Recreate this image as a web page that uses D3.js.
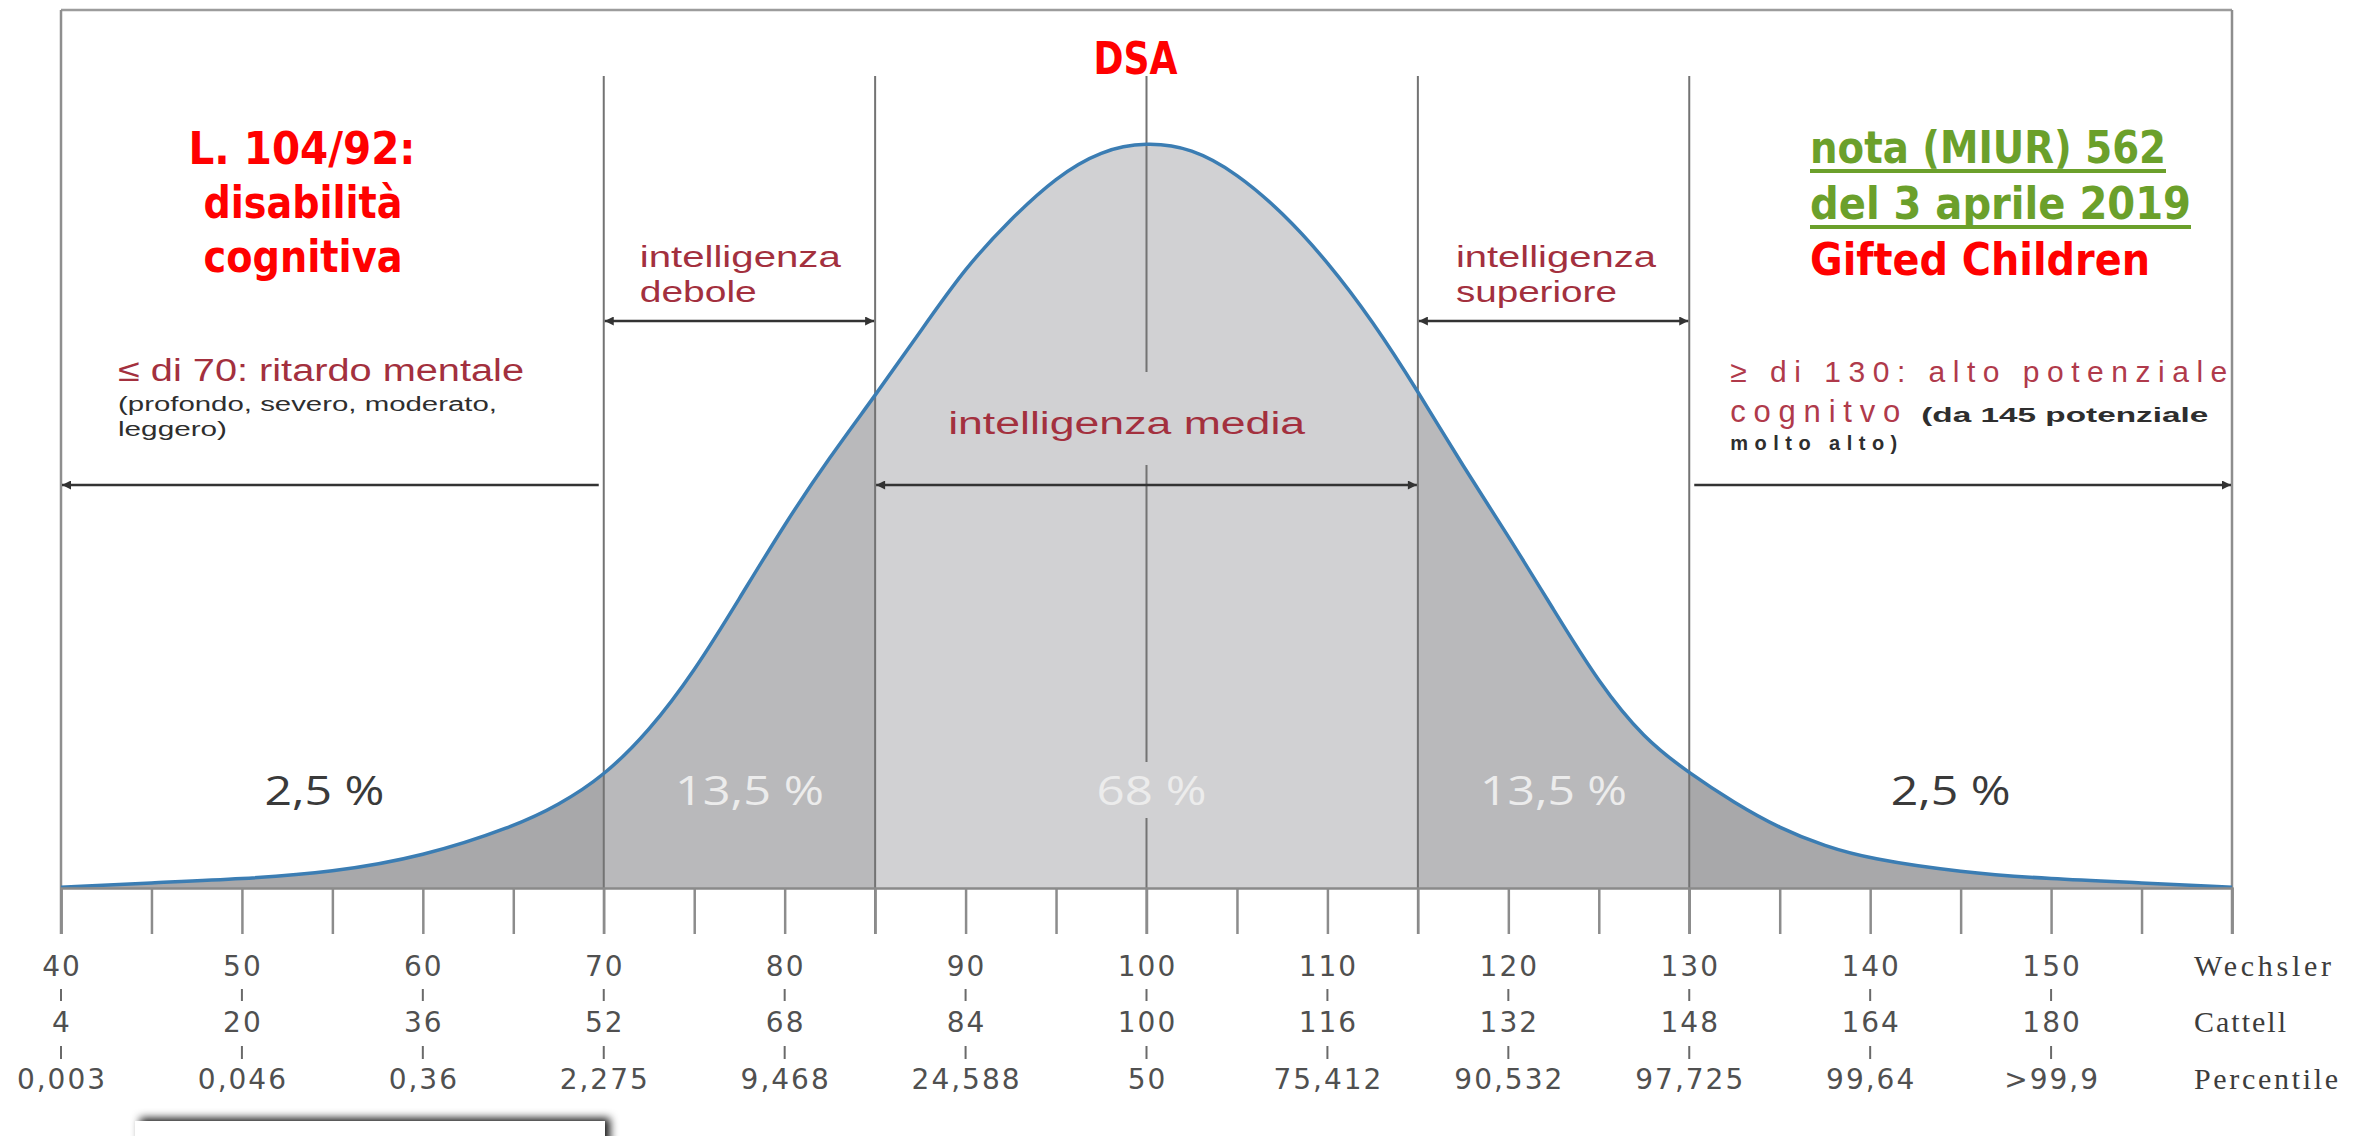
<!DOCTYPE html>
<html>
<head>
<meta charset="utf-8">
<script src="https://cdn.jsdelivr.net/npm/d3@7"></script>
<style>
    body { margin: 0; background: #fff; }
    svg { display: block; }
</style>
</head>
<body>
<div id="chart"></div>
<script>
// curve: IQ score -> height in % of the peak
const iq = [40, 45, 50, 55, 60, 65, 67.5, 70, 72.5, 75, 77.5, 80, 82.5, 85, 87.5, 90, 92.5, 95, 97.5,
    100, 102.5, 105, 107.5, 110, 112.5, 115, 117.5, 120, 122.5, 125, 127.5, 130, 132.5, 135, 137.5,
    140, 145, 150, 155, 160]
const freq = [0.1, 0.7, 1.2, 2.1, 4.2, 8.2, 11.1, 15.0, 21.0, 29.0, 38.8, 48.8, 57.8, 66.0, 74.6, 83.2, 89.7, 95.3, 98.9,
    100, 99.2, 95.8, 90.6, 84.0, 76.0, 66.6, 56.5, 47.2, 37.3, 27.5, 20.0, 15.4, 11.4, 8.0, 5.6,
    3.9, 2.1, 1.2, 0.7, 0.1]

const bounds = [40, 70, 85, 115, 130, 160]
const shares = ["2,5 %", "13,5 %", "68 %", "13,5 %", "2,5 %"]

const wechsler = [40, 50, 60, 70, 80, 90, 100, 110, 120, 130, 140, 150]
const cattell = [4, 20, 36, 52, 68, 84, 100, 116, 132, 148, 164, 180]
const percentile = ["0,003", "0,046", "0,36", "2,275", "9,468", "24,588", "50", "75,412", "90,532", "97,725", "99,64", ">99,9"]
const scaleNames = ["Wechsler", "Cattell", "Percentile"]

const width = 2369
const height = 1136
const frameTop = 10
const lineTop = 76
const tickLen = 46

const svg = d3.select("#chart")
    .append("svg")
    .attr("width", width)
    .attr("height", height)

const x = d3.scaleLinear().domain([40, 160]).range([61, 2232])
const y = d3.scaleLinear().domain([0, 100]).range([888, 142])
const base = y(0)

const data = iq.map((v, i) => ({iq: v, f: freq[i]}))
const defs = svg.append("defs")

// one clip per band under the curve
bounds.slice(1).forEach((b, i) => {
    defs.append("clipPath")
        .attr("id", "band" + i)
        .append("rect")
        .attr("x", x(bounds[i]))
        .attr("y", 0)
        .attr("width", x(b) - x(bounds[i]))
        .attr("height", height)
})

defs.append("marker")
    .attr("id", "head")
    .attr("viewBox", "0 0 10 10")
    .attr("refX", 10)
    .attr("refY", 5)
    .attr("markerUnits", "userSpaceOnUse")
    .attr("markerWidth", 14)
    .attr("markerHeight", 9)
    .attr("orient", "auto-start-reverse")
    .append("path")
    .attr("d", "M0,0L10,5L0,10z")
    .attr("fill", "#333")

const shadow = defs.append("filter")
    .attr("id", "shadow")
    .attr("x", "-10%").attr("y", "-50%")
    .attr("width", "120%").attr("height", "200%")
shadow.append("feDropShadow")
    .attr("dx", 5).attr("dy", -3)
    .attr("stdDeviation", 4)
    .attr("flood-color", "#000")
    .attr("flood-opacity", 0.9)

const bandFill = ["#a8a8aa", "#b9b9bb", "#d1d1d3", "#b9b9bb", "#a8a8aa"]

const area = d3.area()
    .x(d => x(d.iq))
    .y0(base)
    .y1(d => y(d.f))
    .curve(d3.curveBasis)

svg.selectAll(".band")
    .data(bandFill)
    .enter()
    .append("path")
    .attr("class", "band")
    .attr("clip-path", (d, i) => `url(#band${i})`)
    .attr("fill", d => d)
    .attr("d", area(data))

// frame
svg.append("line")
    .attr("x1", x(40)).attr("x2", x(160))
    .attr("y1", frameTop).attr("y2", frameTop)
    .attr("stroke", "#9c9c9c").attr("stroke-width", 2.5)

svg.selectAll(".edge")
    .data([40, 160])
    .enter()
    .append("line")
    .attr("class", "edge")
    .attr("x1", d => x(d)).attr("x2", d => x(d))
    .attr("y1", frameTop).attr("y2", base + tickLen)
    .attr("stroke", "#8e8e8e").attr("stroke-width", 2.5)

// band limits, the one at 100 is broken around two labels
const segs = [
    {v: 70, y1: lineTop, y2: base + tickLen},
    {v: 85, y1: lineTop, y2: base + tickLen},
    {v: 115, y1: lineTop, y2: base + tickLen},
    {v: 130, y1: lineTop, y2: base + tickLen},
    {v: 100, y1: lineTop, y2: 372},
    {v: 100, y1: 465, y2: 762},
    {v: 100, y1: 818, y2: base + tickLen}
]
svg.selectAll(".limit")
    .data(segs)
    .enter()
    .append("line")
    .attr("class", "limit")
    .attr("x1", d => x(d.v)).attr("x2", d => x(d.v))
    .attr("y1", d => d.y1).attr("y2", d => d.y2)
    .attr("stroke", "#737373").attr("stroke-width", 2)

// the curve
svg.append("path")
    .attr("fill", "none")
    .attr("stroke", "#3b7db3")
    .attr("stroke-width", 3.5)
    .attr("d", d3.line().x(d => x(d.iq)).y(d => y(d.f)).curve(d3.curveBasis)(data))

// baseline and ticks
const xAxis = d3.axisBottom(x)
    .tickValues(d3.range(40, 161, 5))
    .tickSize(tickLen)
    .tickFormat("")

const axisG = svg.append("g")
    .attr("transform", `translate(0, ${base})`)
    .call(xAxis)
axisG.select(".domain").attr("stroke", "#8a8a8a").attr("stroke-width", 2.5)
axisG.selectAll(".tick line").attr("stroke", "#8c8c8c").attr("stroke-width", 2.5)

// arrows
const arrows = [
    {a: 70, b: 85, y: 321, s: true, e: true},
    {a: 115, b: 130, y: 321, s: true, e: true},
    {a: 40, b: 70, y: 485, s: true, e: false},
    {a: 85, b: 115, y: 485, s: true, e: true},
    {a: 130, b: 160, y: 485, s: false, e: true}
]
svg.selectAll(".arrow")
    .data(arrows)
    .enter()
    .append("line")
    .attr("class", "arrow")
    .attr("x1", d => x(d.a) + (d.s ? 1 : 5))
    .attr("x2", d => x(d.b) - (d.e ? 1 : 5))
    .attr("y1", d => d.y).attr("y2", d => d.y)
    .attr("stroke", "#333").attr("stroke-width", 2.5)
    .attr("marker-start", d => d.s ? "url(#head)" : null)
    .attr("marker-end", d => d.e ? "url(#head)" : null)

function txt(s, px, py, o) {
    const t = svg.append("text")
        .attr("x", px).attr("y", py)
        .attr("font-family", o.font)
        .attr("font-size", o.size)
        .attr("font-weight", o.weight || "normal")
        .attr("fill", o.fill)
        .attr("text-anchor", o.anchor || "start")
        .text(s)
    if (o.stretch) t.style("font-stretch", o.stretch)
    if (o.len) t.attr("textLength", o.len).attr("lengthAdjust", o.adjust || "spacing")
    if (o.ls) t.attr("letter-spacing", o.ls)
    return t
}

// percentages in the bands
const shareX = [x(55) - 8, x(77.5) + 10, x(100) + 5, x(122.5), x(145) - 10]
const shareLen = [120, 149, 110, 147, 120]
shares.forEach((s, i) => {
    txt(s, shareX[i], 805, {
        font: "'Open Sans', sans-serif", size: 40, anchor: "middle", len: shareLen[i],
        adjust: "spacingAndGlyphs",
        fill: (i === 0 || i === 4) ? "#3a3a3a" : "#ececec"
    })
})

// three rows of scale labels
const rowY = [976, 1032, 1089]
const rows = [wechsler, cattell, percentile]
const numFont = {font: "'DejaVu Sans', sans-serif", size: 28, fill: "#505050", anchor: "middle"}
rows.forEach((row, r) => {
    row.forEach((v, i) => {
        txt(String(v), x(wechsler[i]) + 1, rowY[r], Object.assign({ls: 2}, numFont))
    })
    txt(scaleNames[r], 2194, rowY[r], {
        font: "'Liberation Serif', serif", size: 30, fill: "#3c3c3c",
        len: [137, 92, 144][r]
    })
})
svg.selectAll(".sep")
    .data(d3.cross(wechsler, [[989, 1001], [1046, 1059]]))
    .enter()
    .append("line")
    .attr("class", "sep")
    .attr("x1", d => x(d[0])).attr("x2", d => x(d[0]))
    .attr("y1", d => d[1][0]).attr("y2", d => d[1][1])
    .attr("stroke", "#6a6a6a").attr("stroke-width", 2)

// band descriptions
const dark = "#a3303e"
const sans = "'Liberation Sans', Arial, sans-serif"
const wide = "spacingAndGlyphs"
txt("intelligenza", x(70) + 36, 267, {font: sans, size: 29, fill: dark, len: 201, adjust: wide})
txt("debole", x(70) + 36, 302, {font: sans, size: 29, fill: dark, len: 117, adjust: wide})
txt("intelligenza", x(115) + 38, 267, {font: sans, size: 29, fill: dark, len: 200, adjust: wide})
txt("superiore", x(115) + 38, 302, {font: sans, size: 29, fill: dark, len: 161, adjust: wide})
txt("intelligenza media", x(85) + 73, 434, {font: sans, size: 31, fill: dark, len: 357, adjust: wide})
txt("≤ di 70: ritardo mentale", x(40) + 57, 381, {font: sans, size: 31, fill: dark, len: 406, adjust: wide})
txt("(profondo, severo, moderato,", x(40) + 57, 411, {font: sans, size: 20, fill: "#2e2e2e", len: 379, adjust: wide})
txt("leggero)", x(40) + 57, 436, {font: sans, size: 20, fill: "#2e2e2e", len: 109, adjust: wide})
txt("≥ di 130: alto potenziale", x(130) + 41, 382, {font: sans, size: 30, fill: "#b03a4b", len: 497})
txt("cognitvo", x(130) + 41, 422, {font: sans, size: 31, fill: "#b03a4b", len: 170})
txt("(da 145 potenziale", x(130) + 232, 422, {font: sans, size: 20, weight: "bold", fill: "#2e2e2e", len: 287, adjust: wide})
txt("molto alto)", x(130) + 41, 450, {font: sans, size: 20, weight: "bold", fill: "#2e2e2e", len: 167})

// red and green notes
const bold = {font: "'DejaVu Sans', sans-serif", size: 44, weight: "bold", stretch: "condensed",
    anchor: "middle", adjust: "spacingAndGlyphs"}
txt("DSA", x(100) - 11, 74, Object.assign({}, bold, {fill: "#ff0000", len: 84}))
txt("L. 104/92:", 302, 164, Object.assign({}, bold, {fill: "#ff0000", len: 227}))
txt("disabilità", 303, 218, Object.assign({}, bold, {fill: "#ff0000", len: 199}))
txt("cognitiva", 303, 272, Object.assign({}, bold, {fill: "#ff0000", len: 199}))

const green = "#6ba02b"
const notes = [
    {s: "nota (MIUR) 562", y: 163, len: 356, fill: green, line: true},
    {s: "del 3 aprile 2019", y: 219, len: 381, fill: green, line: true},
    {s: "Gifted Children", y: 275, len: 340, fill: "#ff0000", line: false}
]
notes.forEach(n => {
    txt(n.s, 1810, n.y, Object.assign({}, bold, {anchor: "start", fill: n.fill, len: n.len}))
    if (n.line) {
        svg.append("rect")
            .attr("x", 1810).attr("y", n.y + 6)
            .attr("width", n.len).attr("height", 4)
            .attr("fill", green)
    }
})

// white box cut by the bottom edge
svg.append("rect")
    .attr("x", 135).attr("y", 1121)
    .attr("width", 470).attr("height", 40)
    .attr("fill", "#fff")
    .attr("filter", "url(#shadow)")
</script>
</body>
</html>
